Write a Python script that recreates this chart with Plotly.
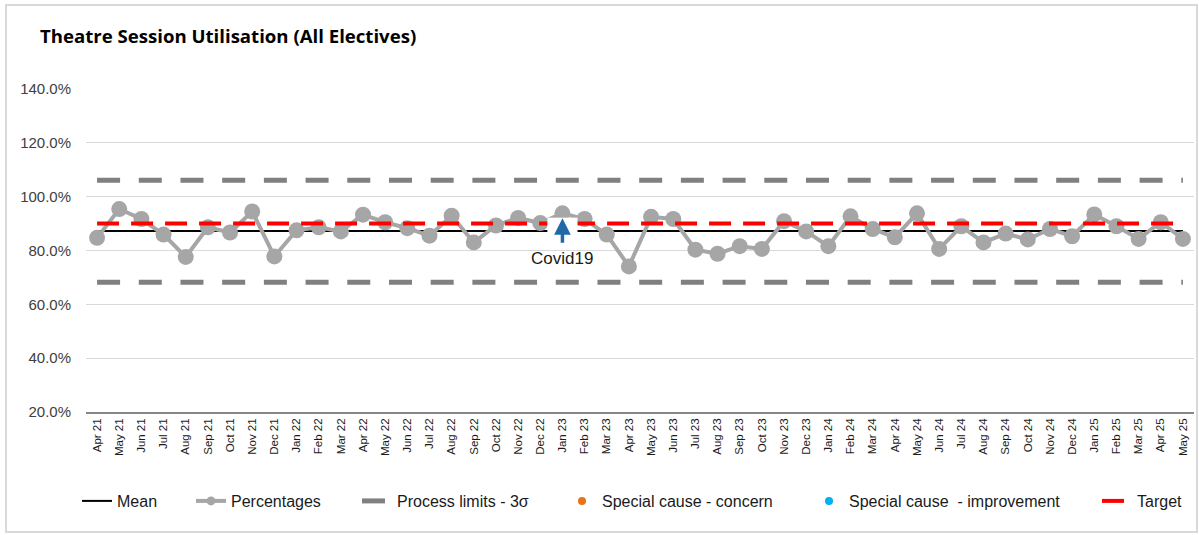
import plotly.graph_objects as go

# Monthly categories (Apr 21 – May 25)
months = [
    "Apr 21", "May 21", "Jun 21", "Jul 21", "Aug 21", "Sep 21", "Oct 21", "Nov 21", "Dec 21",
    "Jan 22", "Feb 22", "Mar 22", "Apr 22", "May 22", "Jun 22", "Jul 22", "Aug 22", "Sep 22",
    "Oct 22", "Nov 22", "Dec 22", "Jan 23", "Feb 23", "Mar 23", "Apr 23", "May 23", "Jun 23",
    "Jul 23", "Aug 23", "Sep 23", "Oct 23", "Nov 23", "Dec 23", "Jan 24", "Feb 24", "Mar 24",
    "Apr 24", "May 24", "Jun 24", "Jul 24", "Aug 24", "Sep 24", "Oct 24", "Nov 24", "Dec 24",
    "Jan 25", "Feb 25", "Mar 25", "Apr 25", "May 25",
]

# Theatre session utilisation (%)
percentages = [
    84.7, 95.4, 91.7, 85.9, 77.6, 88.6, 86.7, 94.5, 77.8, 87.5,
    88.6, 87.1, 93.3, 90.5, 88.3, 85.5, 92.9, 83.0, 89.3, 92.1,
    90.2, 93.8, 91.7, 85.9, 74.1, 92.5, 91.7, 80.3, 78.8, 81.6,
    80.6, 90.9, 87.1, 81.6, 92.7, 88.0, 84.9, 93.8, 80.6, 89.0,
    83.0, 86.3, 84.1, 88.0, 85.3, 93.4, 89.0, 84.3, 90.5, 84.3,
]

mean_value = 87.2
upper_limit = 106.1
lower_limit = 68.2
target_value = 90.0

y_ticks = [20, 40, 60, 80, 100, 120, 140]
y_tick_labels = ["20.0%", "40.0%", "60.0%", "80.0%", "100.0%", "120.0%", "140.0%"]

covid_month = "Jan 23"
covid_label = "Covid19"

n = len(months)
FONT = "Liberation Sans, Arial, sans-serif"

# plot area geometry in pixels (used to place legend entries / frame in paper units)
W, H = 1199, 535
ML, MR, MT, MB = 86, 5, 89, 123
PW = W - ML - MR
PH = H - MT - MB


def px_x(px):
    return (px - ML) / PW


def px_y(py):
    return (H - MB - py) / PH


GREY = "#A6A6A6"
LIMIT_GREY = "#808080"

fig = go.Figure()

fig.add_trace(go.Scatter(
    x=months, y=[mean_value] * n, name="Mean", mode="lines",
    line=dict(color="#000000", width=2), legend="legend",
))
fig.add_trace(go.Scatter(
    x=months, y=percentages, name="Percentages", mode="lines+markers",
    line=dict(color=GREY, width=4),
    marker=dict(color=GREY, size=16), showlegend=False,
))
# legend key for the percentages series (smaller marker in the key)
fig.add_trace(go.Scatter(
    x=[None], y=[None], name="Percentages", mode="lines+markers",
    line=dict(color=GREY, width=4), marker=dict(color=GREY, size=9),
    legend="legend2",
))
fig.add_trace(go.Scatter(
    x=months, y=[upper_limit] * n, name="Process limits - 3σ", mode="lines",
    line=dict(color=LIMIT_GREY, width=5, dash="23px,18.7px"),
    legendgroup="limits", legend="legend3",
))
fig.add_trace(go.Scatter(
    x=months, y=[lower_limit] * n, name="Process limits - 3σ", mode="lines",
    line=dict(color=LIMIT_GREY, width=5, dash="23px,18.7px"),
    legendgroup="limits", showlegend=False, legend="legend3",
))
fig.add_trace(go.Scatter(
    x=[None], y=[None], name="Special cause - concern", mode="markers",
    marker=dict(color="#E8731A", size=8), legend="legend4",
))
fig.add_trace(go.Scatter(
    x=[None], y=[None], name="Special cause \u00a0- improvement", mode="markers",
    marker=dict(color="#00B0F0", size=8), legend="legend5",
))
fig.add_trace(go.Scatter(
    x=months, y=[target_value] * n, name="Target", mode="lines",
    line=dict(color="#FF0000", width=4, dash="22px,12px"), legend="legend6",
))

covid_idx = months.index(covid_month)

shapes = [
    # outer chart frame
    dict(type="rect", xref="paper", yref="paper",
         x0=px_x(6), x1=px_x(1197), y0=px_y(532), y1=px_y(5),
         line=dict(color="#D9D9D9", width=2), fillcolor="rgba(0,0,0,0)", layer="below"),
    # white backing behind the Covid19 marker arrow
    dict(type="rect", xref="x", yref="y",
         x0=covid_idx - 0.68, x1=covid_idx + 0.68, y0=86.6, y1=92.2,
         line=dict(width=0), fillcolor="#FFFFFF", layer="above"),
]

annotations = [
    dict(text="<b>Theatre Session Utilisation (All Electives)</b>",
         xref="paper", yref="paper", x=px_x(38), y=px_y(35),
         xanchor="left", yanchor="middle", showarrow=False,
         font=dict(family="Open Sans, sans-serif", size=18.6, color="#000000")),
    dict(text="", x=covid_month, y=92.0, xref="x", yref="y",
         showarrow=True, ax=0, ay=26, axref="pixel", ayref="pixel",
         arrowhead=2, arrowsize=0.95, arrowwidth=3.5, arrowcolor="#1F69A8"),
    dict(text=covid_label, x=covid_month, y=77.0, xref="x", yref="y",
         showarrow=False, xanchor="center", yanchor="middle",
         font=dict(family=FONT, size=17, color="#1A1A1A")),
]

legend_font = dict(family=FONT, size=16, color="#1A1A1A")
legend_text_starts = [117, 231, 397, 602, 849, 1137]
legends = {}
for i, start in enumerate(legend_text_starts):
    key = "legend" if i == 0 else f"legend{i + 1}"
    legends[key] = dict(
        orientation="h", x=px_x(start - 40), y=px_y(501),
        xanchor="left", yanchor="middle", font=legend_font,
        bgcolor="rgba(0,0,0,0)", itemwidth=30,
    )

fig.update_layout(
    width=W, height=H,
    margin=dict(l=ML, r=MR, t=MT, b=MB),
    paper_bgcolor="#FFFFFF", plot_bgcolor="#FFFFFF",
    font=dict(family=FONT, color="#404040"),
    showlegend=True,
    xaxis=dict(
        type="category", categoryorder="array", categoryarray=months,
        range=[-0.5, n - 0.5],
        tickangle=-90, tickfont=dict(size=11.5, color="#1A1A1A"),
        showgrid=False, showline=True, linecolor="#868686", linewidth=1.5,
        ticks="", zeroline=False,
    ),
    yaxis=dict(
        range=[20, 140], tickmode="array", tickvals=y_ticks, ticktext=y_tick_labels,
        tickfont=dict(size=15, color="#404040"),
        showgrid=True, gridcolor="#D9D9D9", gridwidth=1,
        showline=False, zeroline=False, ticks="", ticklabelstandoff=14,
    ),
    shapes=shapes,
    annotations=annotations,
    **legends,
)

fig.write_html("out.html")
